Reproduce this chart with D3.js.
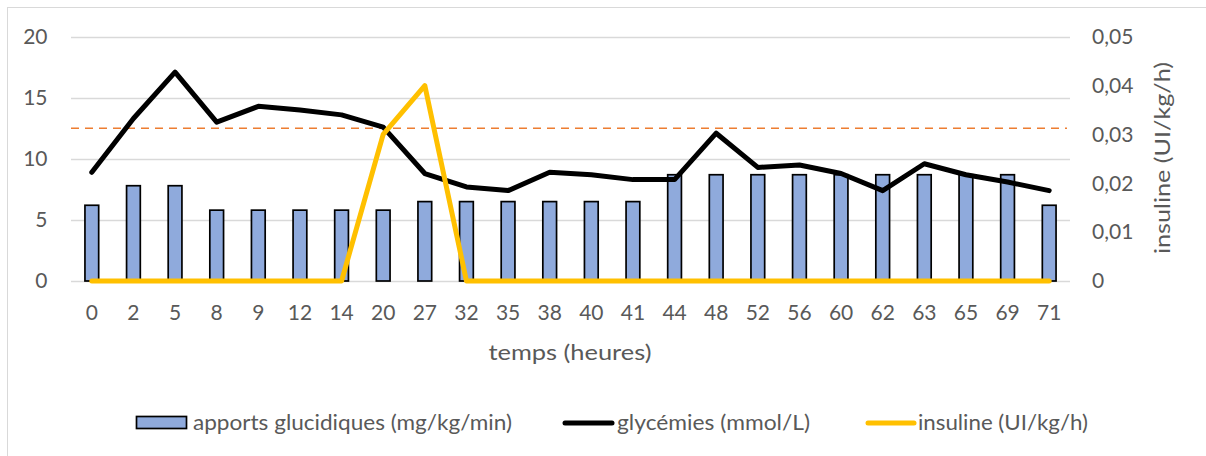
<!DOCTYPE html>
<html><head><meta charset="utf-8">
<script src="https://cdn.jsdelivr.net/npm/d3@7"></script>
<style>
body{margin:0;background:#fff;}
text{font-family:Lato,"Open Sans",sans-serif;fill:#595959;}
</style></head>
<body><svg id="c" width="1206" height="456"></svg>
<script>
const categories = ["0","2","5","8","9","12","14","20","27","32","35","38","40","41","44","48","52","56","60","62","63","65","69","71"];
const apports = [6.2,7.8,7.8,5.8,5.8,5.8,5.8,5.8,6.5,6.5,6.5,6.5,6.5,6.5,8.7,8.7,8.7,8.7,8.7,8.7,8.7,8.7,8.7,6.2];
const glycemies = [8.9,13.3,17.1,13.0,14.3,14.0,13.6,12.6,8.8,7.7,7.4,8.9,8.7,8.3,8.3,12.1,9.3,9.5,8.8,7.4,9.6,8.7,8.1,7.4];
const insuline = [0,0,0,0,0,0,0,0.03,0.04,0,0,0,0,0,0,0,0,0,0,0,0,0,0,0];
const seuil = 12.5;
const leftTicks = [0,5,10,15,20];
const rightTicks = [0,0.01,0.02,0.03,0.04,0.05];
const labels = {
  x: "temps (heures)",
  yRight: "insuline (UI/kg/h)",
  s1: "apports glucidiques (mg/kg/min)",
  s2: "glycémies (mmol/L)",
  s3: "insuline (UI/kg/h)"
};

const svg = d3.select("#c");
const L = 71, R = 1070, T = 36.7, B = 281;
const FS = 21;
const x = d3.scaleBand().domain(categories).range([L, R]).paddingInner(0.67).paddingOuter(0.335);
const xc = d3.scalePoint().domain(categories).range([L, R]).padding(0.5);
const yL = d3.scaleLinear().domain([0,20]).range([B, T]);
const yR = d3.scaleLinear().domain([0,0.05]).range([B, T]);

function fitText(sel, w){ sel.attr("textLength", w).attr("lengthAdjust","spacingAndGlyphs"); return sel; }

// border
svg.append("rect").attr("x",7.5).attr("y",7.5).attr("width",1205).attr("height",455)
  .attr("fill","none").attr("stroke","#D9D9D9").attr("stroke-width",1);

// gridlines
svg.append("g").selectAll("line").data(leftTicks).join("line")
  .attr("x1",L).attr("x2",R).attr("y1",d=>Math.round(yL(d))+0.5).attr("y2",d=>Math.round(yL(d))+0.5)
  .attr("stroke","#D9D9D9").attr("stroke-width",1.3);

// axis labels
const fmtR = d3.format(".2f");
svg.append("g").selectAll("text").data(leftTicks).join("text")
  .attr("x",47.5).attr("y",d=>yL(d)).attr("dy","0.35em").attr("text-anchor","end")
  .attr("font-size",FS).text(d=>d);
svg.append("g").selectAll("text").data(rightTicks).join("text")
  .attr("x",1092).attr("y",d=>yR(d)).attr("dy","0.35em").attr("text-anchor","start")
  .attr("font-size",FS).text(d=> d===0 ? "0" : fmtR(d).replace(".",","));

svg.append("g").selectAll("text").data(categories).join("text")
  .attr("x",d=>xc(d)).attr("y",313).attr("dy","0.35em").attr("text-anchor","middle")
  .attr("font-size",FS).text(d=>d);

fitText(svg.append("text").attr("x",570).attr("y",353).attr("dy","0.35em").attr("text-anchor","middle")
  .attr("font-size",FS).text(labels.x), 163);
fitText(svg.append("text").attr("transform","translate(1163,158) rotate(-90)").attr("dy","0.35em")
  .attr("text-anchor","middle").attr("font-size",FS).text(labels.yRight), 192);

// bars
svg.append("g").selectAll("rect").data(apports).join("rect")
  .attr("x",(d,i)=>x(categories[i])).attr("width",x.bandwidth())
  .attr("y",d=>yL(d)).attr("height",d=>B-yL(d))
  .attr("fill","#8FAADC").attr("stroke","#000").attr("stroke-width",1.7);

// threshold dashed line
svg.append("line").attr("x1",L).attr("x2",R-3).attr("y1",yL(seuil)).attr("y2",yL(seuil))
  .attr("stroke","#ED7D31").attr("stroke-width",1.5).attr("stroke-dasharray","8,6");

// glycemia line
const lineL = d3.line().x((d,i)=>xc(categories[i])).y(d=>yL(d));
svg.append("path").attr("d",lineL(glycemies)).attr("fill","none").attr("stroke","#000")
  .attr("stroke-width",5).attr("stroke-linejoin","round").attr("stroke-linecap","round");

// insulin line
const lineR = d3.line().x((d,i)=>xc(categories[i])).y(d=>yR(d));
svg.append("path").attr("d",lineR(insuline)).attr("fill","none").attr("stroke","#FFC000")
  .attr("stroke-width",5).attr("stroke-linejoin","round").attr("stroke-linecap","round");

// legend
const ly = 423;
svg.append("rect").attr("x",136.5).attr("y",416.5).attr("width",50).attr("height",12)
  .attr("fill","#8FAADC").attr("stroke","#000").attr("stroke-width",1.7);
fitText(svg.append("text").attr("x",193).attr("y",ly).attr("dy","0.35em").attr("font-size",FS).text(labels.s1), 319);
svg.append("line").attr("x1",565).attr("x2",612).attr("y1",ly).attr("y2",ly)
  .attr("stroke","#000").attr("stroke-width",5).attr("stroke-linecap","round");
fitText(svg.append("text").attr("x",617).attr("y",ly).attr("dy","0.35em").attr("font-size",FS).text(labels.s2), 193);
svg.append("line").attr("x1",868).attr("x2",914).attr("y1",ly).attr("y2",ly)
  .attr("stroke","#FFC000").attr("stroke-width",5).attr("stroke-linecap","round");
fitText(svg.append("text").attr("x",918).attr("y",ly).attr("dy","0.35em").attr("font-size",FS).text(labels.s3), 170);
</script></body></html>
